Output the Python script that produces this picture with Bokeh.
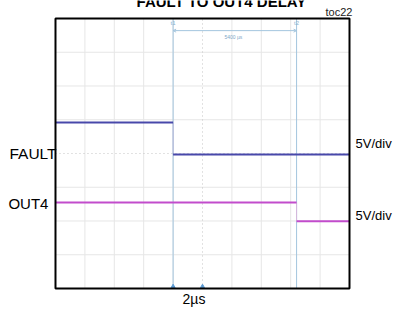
from bokeh.plotting import figure
from bokeh.models import Range1d, Arrow, OpenHead
from bokeh.core.properties import value
from bokeh.embed import file_html
from bokeh.resources import INLINE

# ---- data (time in µs, 2 µs/div; vertical position in divisions) ----
fault_t_start = [0.0, 8.0]
fault_t_end = [8.0, 20.0]
fault_level = [4.92, 3.97]

out4_t_start = [0.0, 16.4]
out4_t_end = [16.4, 20.0]
out4_level = [2.55, 1.99]

cursor_times = [8.0, 16.4]
cursor_names = ["t1", "t2"]
delta_text = "5400 µs"
trigger_marks = [8.0, 10.0]

t_min, t_max = 0.0, 20.0
div_min, div_max = 0.0, 8.0
t_center, div_center = 10.0, 4.0
x_grid = [2, 4, 6, 8, 12, 14, 16, 18]
y_grid = [1, 2, 3, 5, 6, 7]

FONT = "Liberation Sans"
FAULT_COL = "#4848aa"
OUT4_COL = "#c24ccc"
CURSOR_COL = "#a3c5de"
GRID_COL = "#e6e6e6"

p = figure(width=393, height=318, output_backend="svg", toolbar_location=None,
           x_range=Range1d(-3.741, 22.993), y_range=Range1d(-0.889, 8.533),
           min_border=0)
p.axis.visible = False
p.grid.visible = False
p.outline_line_color = None
p.background_fill_color = "white"
p.border_fill_color = "white"

# grid
p.segment(x0=x_grid, x1=x_grid, y0=[div_min] * len(x_grid), y1=[div_max] * len(x_grid),
          line_color=GRID_COL, line_width=1)
p.segment(x0=[t_min] * len(y_grid), x1=[t_max] * len(y_grid), y0=y_grid, y1=y_grid,
          line_color=GRID_COL, line_width=1)
p.segment(x0=[t_center], x1=[t_center], y0=[div_min], y1=[div_max],
          line_color="#c4c4c4", line_dash="1 3", line_width=1)
p.segment(x0=[t_min], x1=[t_max], y0=[div_center], y1=[div_center],
          line_color="#c4c4c4", line_dash="1 3", line_width=1)

# cursors
p.segment(x0=cursor_times, x1=cursor_times, y0=[div_min] * 2, y1=[div_max] * 2,
          line_color=CURSOR_COL, line_width=1)
p.text(x=cursor_times, y=[7.88, 7.88], text=cursor_names, text_font=value(FONT),
       text_font_size="6px", text_color="#8fb3cf", text_align="center", text_baseline="middle")
p.add_layout(Arrow(x_start=cursor_times[0], x_end=cursor_times[1], y_start=7.64, y_end=7.64,
                   line_color=CURSOR_COL, line_width=1,
                   start=OpenHead(size=3, line_color=CURSOR_COL, line_width=1),
                   end=OpenHead(size=3, line_color=CURSOR_COL, line_width=1)))
p.text(x=[12.1], y=[7.44], text=[delta_text], text_font=value(FONT), text_font_size="5px",
       text_color="#7fa8c8", text_align="center", text_baseline="middle")
p.scatter(trigger_marks, [0.06] * len(trigger_marks), marker="triangle", size=4,
          color="#5b9bd5")

# traces
p.segment(x0=[fault_t_end[0]], x1=[fault_t_start[1]], y0=[fault_level[0]], y1=[fault_level[1]],
          line_color="#b8b8d8", line_width=1)
p.segment(x0=fault_t_start, x1=fault_t_end, y0=fault_level, y1=fault_level,
          line_color=FAULT_COL, line_width=2)
p.segment(x0=[out4_t_end[0]], x1=[out4_t_start[1]], y0=[out4_level[0]], y1=[out4_level[1]],
          line_color="#d8b8dc", line_width=1)
p.segment(x0=out4_t_start, x1=out4_t_end, y0=out4_level, y1=out4_level,
          line_color=OUT4_COL, line_width=2)

# scope frame
p.quad(left=[t_min], right=[t_max], bottom=[div_min], top=[div_max],
       fill_color=None, line_color="black", line_width=2)

# texts
p.text(x=[11.29], y=[8.504], text=["FAULT TO OUT4 DELAY"], text_font=value(FONT),
       text_font_style="bold", text_font_size="15px", text_align="center",
       text_baseline="middle", text_color="black")
p.text(x=[20.2], y=[8.193], text=["toc22"], text_font=value(FONT), text_font_size="11px",
       text_align="right", text_baseline="middle", text_color="#222222")
p.text(x=[0.07], y=[4.0], text=["FAULT"], text_font=value(FONT), text_font_size="15.5px",
       text_align="right", text_baseline="middle", text_color="black")
p.text(x=[-3.2], y=[2.52], text=["OUT4"], text_font=value(FONT), text_font_size="15px",
       text_align="left", text_baseline="middle", text_color="black")
p.text(x=[20.41, 20.41], y=[4.30, 2.16], text=["5V/div", "5V/div"], text_font=value(FONT),
       text_font_size="13px", text_align="left", text_baseline="middle", text_color="black")
p.text(x=[9.42], y=[-0.326], text=["2µs"], text_font=value(FONT), text_font_size="14px",
       text_align="center", text_baseline="middle", text_color="black")

open("out.html", "w").write(file_html(p, INLINE))
